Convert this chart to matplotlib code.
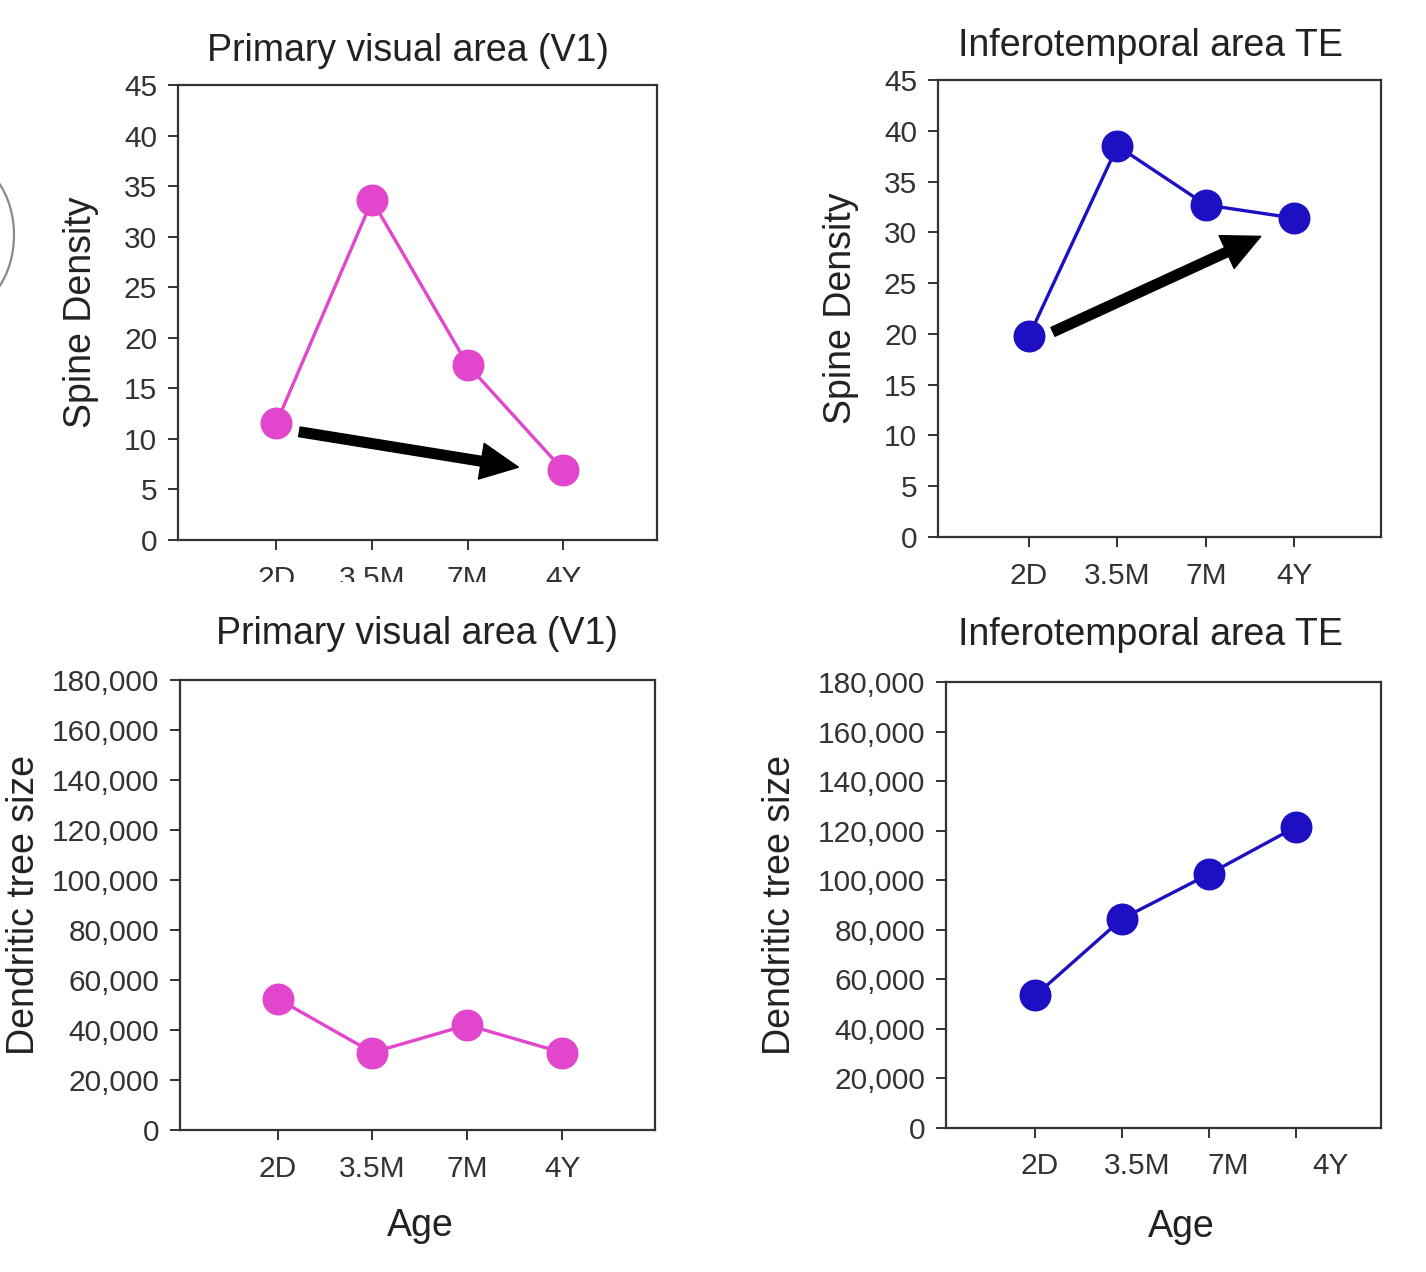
import matplotlib

matplotlib.use("Agg")

import matplotlib.pyplot as plt
from matplotlib.patches import FancyArrowPatch, Ellipse, Rectangle
from matplotlib.ticker import FuncFormatter

plt.rcParams["font.family"] = ["Liberation Sans", "DejaVu Sans"]

ages = ["2D", "3.5M", "7M", "4Y"]
v1_spine = [11.6, 33.6, 17.3, 6.9]
te_spine = [19.8, 38.5, 32.7, 31.4]
v1_tree = [52500, 31000, 42000, 31000]
te_tree = [53500, 84500, 102500, 121500]

# arrow annotations (tail, head) in data units of the spine panels
v1_arrow = [(0.24, 10.7), (2.53, 7.2)]
te_arrow = [(0.27, 20.2), (2.62, 29.6)]

PINK = "#e246cc"
BLUE = "#1d0fc2"
INK = "#333333"
TXT = "#222222"

W, H = 1426, 1272
fig = plt.figure(figsize=(W / 100, H / 100), dpi=100)


def add_ax(left, top, right, bottom):
    return fig.add_axes([left / W, 1 - bottom / H, (right - left) / W, (bottom - top) / H])


def style(ax, ymax, ystep, xlabels_dx=None):
    ax.set_xlim(-1.03, 3.98)
    ax.set_ylim(0, ymax)
    ax.set_yticks(range(0, ymax + 1, ystep))
    ax.set_xticks(range(len(ages)))
    for s in ax.spines.values():
        s.set_color(INK)
        s.set_linewidth(1.6)
    ax.tick_params(axis="y", direction="out", length=7, width=1.4, color=INK,
                   labelsize=21.5, labelcolor=INK, pad=8)
    ax.tick_params(axis="x", direction="out", length=7, width=1.4, color=INK,
                   labelsize=21.5, labelcolor=INK, pad=11)
    if xlabels_dx is None:
        ax.set_xticklabels(ages)
    else:
        # labels drift right of their ticks in the source figure
        ax.set_xticklabels([])
        ax.set_xticks([i + d for i, d in enumerate(xlabels_dx)], minor=True)
        ax.set_xticklabels(ages, minor=True)
        ax.tick_params(axis="x", which="minor", length=0, labelsize=21.5,
                       labelcolor=INK, pad=17)


def draw(ax, values, color):
    ax.plot(range(len(values)), values, color=color, lw=2.4, marker="o",
            markersize=22, markerfacecolor=color, markeredgecolor=color, zorder=3)


def arrow(ax, pts):
    a = FancyArrowPatch(pts[0], pts[1], arrowstyle="simple,head_length=27,head_width=26,tail_width=7",
                        mutation_scale=1, color="black", shrinkA=0, shrinkB=0, zorder=4)
    ax.add_patch(a)


thousands = FuncFormatter(lambda v, p: f"{int(v):,}")

# top left: V1 spine density
ax1 = add_ax(178, 85, 657, 540)
draw(ax1, v1_spine, PINK)
style(ax1, 45, 5)
arrow(ax1, v1_arrow)
ax1.set_title("Primary visual area (V1)", fontsize=27, color=TXT, pad=17, x=0.48)
ax1.set_ylabel("Spine Density", fontsize=27, color=TXT, labelpad=18)

# top right: TE spine density
ax2 = add_ax(938, 80, 1381, 537)
draw(ax2, te_spine, BLUE)
style(ax2, 45, 5)
arrow(ax2, te_arrow)
ax2.set_title("Inferotemporal area TE", fontsize=27, color=TXT, pad=17, x=0.48)
ax2.set_ylabel("Spine Density", fontsize=27, color=TXT, labelpad=18)

# bottom left: V1 dendritic tree size
ax3 = add_ax(180, 680, 655, 1130)
draw(ax3, v1_tree, PINK)
style(ax3, 180000, 20000)
ax3.yaxis.set_major_formatter(thousands)
ax3.set_title("Primary visual area (V1)", fontsize=27, color=TXT, pad=26, x=0.5)
ax3.set_ylabel("Dendritic tree size", fontsize=27, color=TXT, labelpad=7)
ax3.set_xlabel("Age", fontsize=27, color=TXT, labelpad=18, x=0.505)

# bottom right: TE dendritic tree size
ax4 = add_ax(946, 682, 1381, 1128)
draw(ax4, te_tree, BLUE)
style(ax4, 180000, 20000, xlabels_dx=[0.05, 0.17, 0.22, 0.4])
ax4.yaxis.set_major_formatter(thousands)
ax4.set_title("Inferotemporal area TE", fontsize=27, color=TXT, pad=27, x=0.47)
ax4.set_ylabel("Dendritic tree size", fontsize=27, color=TXT, labelpad=14)
ax4.set_xlabel("Age", fontsize=27, color=TXT, labelpad=21, x=0.54)

# screenshot artefacts: partial outline at the left edge, clipped top-left tick labels
fig.patches.append(Ellipse((-40 / W, 1 - 235 / H), 108 / W, 150 / H, transform=fig.transFigure,
                           fill=False, edgecolor="#8a8a8a", lw=1.6))
fig.patches.append(Rectangle((175 / W, 1 - 600 / H), 490 / W, 18 / H, transform=fig.transFigure,
                             facecolor="white", edgecolor="none", zorder=10))

fig.savefig("out.png", dpi=100)
